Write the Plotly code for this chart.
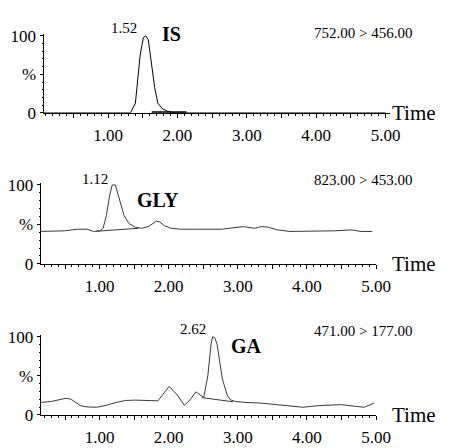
import plotly.graph_objects as go

W, H = 452, 448
FONT = "Liberation Serif"

# ---------------- data ----------------
is_time = [0.07, 1.30, 1.324, 1.394, 1.463, 1.51, 1.543, 1.58, 1.626, 1.672, 1.718, 1.788, 1.858, 1.95, 5.0]
is_int = [0, 0, 0, 12.5, 75, 98, 100, 95, 67, 33, 12.5, 5, 2, 0, 0]
is_base_time = [1.63, 2.13]
is_base_int = [0.8, 0.8]

gly_time = [0.147, 0.492, 0.678, 0.818, 0.912, 1.004, 1.051, 1.098, 1.144, 1.182, 1.228, 1.261,
            1.308, 1.354, 1.424, 1.517, 1.611, 1.704, 1.773, 1.821, 1.867, 1.937, 2.031, 2.171,
            2.357, 2.776, 2.869, 3.08, 3.242, 3.336, 3.429, 3.569, 3.755, 3.989, 4.035, 4.129,
            4.408, 4.641, 4.781, 4.944]
gly_int = [41.1, 41.9, 43.9, 43.9, 41.1, 41.9, 45.1, 61.4, 85.8, 100, 100, 89.8,
           73.6, 61.4, 51.2, 46.3, 45.1, 47.2, 51.2, 54.1, 53.3, 48.4, 45.1, 43.9,
           43.9, 43.9, 45.1, 47.2, 45.1, 47.2, 46.7, 43.1, 41.1, 41.1, 41.9, 41.1,
           41.9, 43.1, 41.1, 41.1]
gly_base_time = [0.95, 1.56]
gly_base_int = [41.3, 45.1]

ga_time = [0.147, 0.305, 0.515, 0.585, 0.724, 0.818, 0.958, 1.098, 1.238, 1.378, 1.517, 1.751,
           1.844, 2.007, 2.124, 2.226, 2.31, 2.394, 2.45, 2.506, 2.566, 2.613, 2.636, 2.67,
           2.70, 2.73, 2.776, 2.846, 2.893, 2.962, 3.102, 3.336, 3.569, 3.802, 3.941, 4.175,
           4.5, 4.688, 4.828, 4.97]
ga_int = [16, 17.2, 21.3, 20.1, 11.9, 10.2, 9.8, 12.3, 16, 18.5, 18.9, 18.9,
          18, 36.5, 25.4, 12.3, 19.3, 29.5, 25.4, 22.1, 50, 91, 100, 98,
          90, 70.5, 45.9, 25.4, 19.3, 17.2, 16, 15.1, 13.1, 11.9, 9.8, 11.9,
          13.1, 11.1, 9.8, 15.1]
ga_base_time = [2.48, 2.93]
ga_base_int = [22.1, 16.8]

x_tick_vals = [0.5, 1.0, 1.5, 2.0, 2.5, 3.0, 3.5, 4.0, 4.5, 5.0]
x_tick_text = ["", "1.00", "", "2.00", "", "3.00", "", "4.00", "", "5.00"]
y_tick_vals = [0, 50, 100]
y_tick_text = ["0", "%", "100"]

panels = [
    dict(name="IS", peak="1.52", mrm="752.00 > 456.00"),
    dict(name="GLY", peak="1.12", mrm="823.00 > 453.00"),
    dict(name="GA", peak="2.62", mrm="471.00 > 177.00"),
]

# ---------------- layout helpers ----------------
def px(x):
    return x / W

def py(y):
    return 1 - y / H

fig = go.Figure()

# panel geometry (pixels): x-axis start/end, y of 0%, y of 100%
geo = [
    dict(x0=45, x1=403, y0=110, y100=30, r=(0.0697, 5.059)),
    dict(x0=42, x1=389, y0=267, y100=185, r=(0.1469, 5.0)),
    dict(x0=42, x1=389, y0=424, y100=342.7, r=(0.1469, 5.0)),
]

series = [
    (is_time, is_int, is_base_time, is_base_int, "black", 2.0),
    (gly_time, gly_int, gly_base_time, gly_base_int, "#3a3a3a", 1.0),
    (ga_time, ga_int, ga_base_time, ga_base_int, "#3a3a3a", 1.0),
]

YTOP = 102
layout = dict(width=W, height=H, margin=dict(l=0, r=0, t=0, b=0),
              paper_bgcolor="white", plot_bgcolor="white", showlegend=False,
              font=dict(family=FONT, color="black"))
annotations = []

for i, (g, s, p) in enumerate(zip(geo, series, panels)):
    k = "" if i == 0 else str(i + 1)
    xa, ya = "x" + k, "y" + k
    t, v, bt, bv, col, bw = s
    fig.add_trace(go.Scatter(x=t, y=v, mode="lines", xaxis=xa, yaxis=ya,
                             line=dict(color=col, width=1), hoverinfo="skip"))
    fig.add_trace(go.Scatter(x=bt, y=bv, mode="lines", xaxis=xa, yaxis=ya,
                             line=dict(color=col, width=bw), hoverinfo="skip"))
    ytop_px = g["y0"] - (g["y0"] - g["y100"]) * YTOP / 100
    layout["xaxis" + k] = dict(
        domain=[px(g["x0"]), px(g["x1"])], range=list(g["r"]), anchor=ya,
        showgrid=False, zeroline=False, showline=True, linecolor="black", linewidth=1,
        tickmode="array", tickvals=x_tick_vals, ticktext=x_tick_text,
        ticks="outside", ticklen=4, tickcolor="black", tickwidth=1,
        ticklabelstandoff=3,
        tickfont=dict(family=FONT, size=17, color="black"),
        minor=dict(tickmode="linear", tick0=0, dtick=0.1, ticks="outside", ticklen=2,
                   tickcolor="black"),
        fixedrange=True,
    )
    layout["yaxis" + k] = dict(
        domain=[py(g["y0"]), py(ytop_px)], range=[0, YTOP], anchor=xa,
        showgrid=False, zeroline=False, showline=True, linecolor="black", linewidth=1,
        tickmode="array", tickvals=y_tick_vals, ticktext=y_tick_text,
        ticks="outside", ticklen=3, tickcolor="black",
        tickfont=dict(family=FONT, size=17, color="black"),
        minor=dict(tickmode="linear", tick0=0, dtick=10, ticks="outside", ticklen=1,
                   tickcolor="black"),
        fixedrange=True,
    )
    # Time label
    annotations.append(dict(text="Time", xref="paper", yref="paper", x=px(403), y=py(g["y0"]),
                            xanchor="left", yanchor="middle", showarrow=False,
                            font=dict(family=FONT, size=21, color="black")))
    # mrm label
    mrm_y = [27, 180, 337][i]
    annotations.append(dict(text=p["mrm"], xref="paper", yref="paper", x=px(375.5), y=py(mrm_y),
                            xanchor="center", yanchor="middle", showarrow=False,
                            font=dict(family=FONT, size=15, color="black")))

# peak labels and compound names (pixel positions)
peak_pos = [(128, 22), (98, 179), (200, 335)]
name_pos = [(165, 28), (140, 201), (237, 352)]
for p, (xp, yp), (xn, yn) in zip(panels, peak_pos, name_pos):
    annotations.append(dict(text=p["peak"], xref="paper", yref="paper", x=px(xp), y=py(yp),
                            xanchor="center", yanchor="middle", showarrow=False,
                            font=dict(family=FONT, size=15, color="black")))
    annotations.append(dict(text="<b>" + p["name"] + "</b>", xref="paper", yref="paper",
                            x=px(xn), y=py(yn), xanchor="left", yanchor="middle",
                            showarrow=False, font=dict(family=FONT, size=20, color="black")))

layout["annotations"] = annotations
fig.update_layout(**layout)
fig.write_html("out.html", config={"displayModeBar": False})
